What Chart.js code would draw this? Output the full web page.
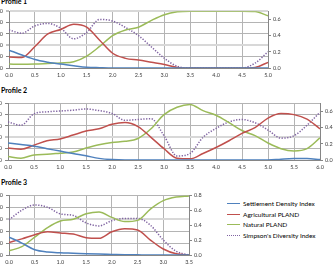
<!DOCTYPE html>
<html><head><meta charset="utf-8">
<script src="https://cdn.jsdelivr.net/npm/chart.js@4/dist/chart.umd.min.js"></script>
<style>
html,body{margin:0;padding:0;width:333px;height:266px;overflow:hidden;background:#fff;}
body{position:relative;}
canvas{position:absolute;}
.title{position:absolute;font-family:Lato,"Liberation Sans",sans-serif;font-weight:bold;font-size:7px;line-height:7px;color:#000;white-space:nowrap;}
.legend{position:absolute;left:227px;top:198px;font-family:Lato,"Liberation Sans",sans-serif;font-size:6.5px;color:#000;}
.legend .row{height:10.7px;display:flex;align-items:center;white-space:nowrap;}
.legend .sw{display:inline-block;width:13px;height:0;margin-right:3px;border-top-width:1.5px;border-top-style:solid;}
</style></head><body>
<div class="title" style="left:1px;top:-2.5px">Profile 1</div>
<div class="title" style="left:1px;top:87px">Profile 2</div>
<div class="title" style="left:1px;top:179px">Profile 3</div>
<canvas id="p1" width="305" height="77" style="left:-16px;top:5px"></canvas>
<canvas id="p2" width="358" height="77" style="left:-17px;top:97px"></canvas>
<canvas id="p3" width="226" height="80" style="left:-16px;top:189px"></canvas>
<div class="legend" id="legend"></div>
<script>
// ---- Data ----
const seriesNames = ["Settlement Density Index", "Agricultural PLAND", "Natural PLAND", "Simpson's Diversity Index"];
const seriesColors = ["#4F81BD", "#C0504D", "#9BBB59", "#8064A2"];

// Profile 1
const distance1   = [0,0.25,0.5,0.75,1,1.25,1.5,1.75,2,2.25,2.5,2.75,3,3.25,3.5,3.75,4,4.25,4.5,4.75,5];
const settlement1 = [0.22,0.16,0.105,0.072,0.048,0.028,0.01,0.004,0,0,0,0,0,0,0,0,0,0,0,0,0];
const agri1       = [19.5,18.5,38,60,68,77,72,49,26,17,14,10,6,1,0,0,0,0,0,1,10];
const natural1    = [7,6.5,7,8,9,11,21,38,57,67,72,84,94,99,100,100,100,100,100,99.5,92];
const simpson1    = [0.47,0.43,0.52,0.55,0.49,0.36,0.44,0.60,0.58,0.50,0.40,0.26,0.12,0.02,0,0,0,0,0,0.06,0.20];

// Profile 2
const distance2   = [0,0.25,0.5,0.75,1,1.25,1.5,1.75,2,2.25,2.5,2.75,3,3.25,3.5,3.75,4,4.25,4.5,4.75,5,5.25,5.5,5.75,6];
const settlement2 = [0.21,0.19,0.17,0.14,0.11,0.08,0.052,0.02,0.005,0,0,0,0,0,0,0,0,0,0,0,0,0.01,0.017,0.017,0.005];
const agri2       = [21,19,26,34,37,44,51,55,63,66,59,40,20,3,2,11.5,22,34,47,57,74,82,80,72,55];
const natural2    = [6,3,9,10,12,14,21,27,31,33,38,55,80,93,98,87,79,66,52,43,30,20,16,20,39];
const simpson2    = [0.47,0.43,0.57,0.595,0.605,0.615,0.63,0.61,0.575,0.49,0.50,0.51,0.30,0.05,0.08,0.28,0.39,0.47,0.50,0.46,0.37,0.27,0.30,0.43,0.59];

// Profile 3
const distance3   = [0,0.25,0.5,0.75,1,1.25,1.5,1.75,2,2.25,2.5,2.75,3,3.25,3.5];
const settlement3 = [0.24,0.16,0.07,0.04,0.03,0.024,0.017,0.012,0.008,0.004,0.002,0,0,0,0];
const agri3       = [21,27,34,39,37,35,29,28,39,44,42,25,10,2,0];
const natural3    = [7,14,30,46,57,60,69,72,63,56,58,77,91,97,99];
const simpson3    = [0.47,0.60,0.67,0.64,0.55,0.53,0.43,0.39,0.46,0.49,0.49,0.40,0.20,0.05,0];

// Axis ranges / tick steps
const leftMax = 100, leftStep = 20;
const xMax1 = 5, xMax2 = 6, xMax3 = 3.5, xStep = 0.5;
const rightMax1 = 0.7, rightMax2 = 0.7, rightMax3 = 0.8;
const rightStep1 = 0.1, rightStep2 = 0.1, rightStep3 = 0.2;

// ---- Rendering ----
const FONT = "Lato";
const tickFont = {family: FONT, size: 5.5};
const tickColor = "#404040";
const axisColor = "#868686";

function pts(xs, ys){ return xs.map((x,i)=>({x:x, y:ys[i]})); }

function makeChart(id, xs, settlement, agri, natural, simpson, xMax, rMax, rStep, thick){
  const datasets = [
    {label:seriesNames[0], data:pts(xs,settlement), yAxisID:'y1', borderColor:seriesColors[0]},
    {label:seriesNames[1], data:pts(xs,agri), yAxisID:'y', borderColor:seriesColors[1]},
    {label:seriesNames[2], data:pts(xs,natural), yAxisID:'y', borderColor:seriesColors[2]},
    {label:seriesNames[3], data:pts(xs,simpson), yAxisID:'y1', borderColor:seriesColors[3], borderDash:[1.3,1.5]}
  ];
  return new Chart(document.getElementById(id), {
    type:'line',
    data:{datasets:datasets},
    options:{
      responsive:false, animation:false, devicePixelRatio:1,
      layout:{padding:{top:5,left:0,right:0,bottom:0}},
      plugins:{legend:{display:false}, tooltip:{enabled:false}},
      elements:{point:{radius:0}, line:{borderWidth:1.5, cubicInterpolationMode:'monotone', fill:false}},
      scales:{
        x:{type:'linear', min:0, max:xMax,
           ticks:{stepSize:xStep, callback:v=>v.toFixed(1), font:tickFont, color:tickColor, padding:4, maxRotation:0, autoSkip:false},
           grid:{color:'#b4b4b4', drawTicks:false},
           border:{color:axisColor},
           afterFit:s=>{s.height=14;}},
        y:{position:'left', min:0, max:leftMax,
           ticks:{stepSize:leftStep, font:tickFont, color:tickColor, padding:3},
           grid:{color:c=> thick.includes(c.tick && c.tick.value) ? '#d8d8d8' : '#b4b4b4',
                 lineWidth:c=> thick.includes(c.tick && c.tick.value) ? 2 : 1,
                 tickLength:3, tickColor:axisColor, tickWidth:1},
           border:{color:axisColor},
           afterFit:s=>{s.width=25;}},
        y1:{position:'right', min:0, max:rMax,
           ticks:{stepSize:rStep, callback:v=>v.toFixed(1), font:tickFont, color:tickColor, padding:2},
           grid:{drawOnChartArea:false, tickLength:3, color:axisColor},
           border:{color:axisColor},
           afterFit:s=>{s.width=21;}}
      }
    }
  });
}

makeChart('p1', distance1, settlement1, agri1, natural1, simpson1, xMax1, rightMax1, rightStep1, [40,100]);
makeChart('p2', distance2, settlement2, agri2, natural2, simpson2, xMax2, rightMax2, rightStep2, [40]);
makeChart('p3', distance3, settlement3, agri3, natural3, simpson3, xMax3, rightMax3, rightStep3, [60]);

// Legend
const lg = document.getElementById('legend');
seriesNames.forEach((n,i)=>{
  const row = document.createElement('div'); row.className='row';
  const sw = document.createElement('span'); sw.className='sw';
  sw.style.borderTopColor = seriesColors[i];
  if(i===3) sw.style.borderTopStyle='dotted';
  row.appendChild(sw);
  row.appendChild(document.createTextNode(n));
  lg.appendChild(row);
});
</script>
</body></html>
